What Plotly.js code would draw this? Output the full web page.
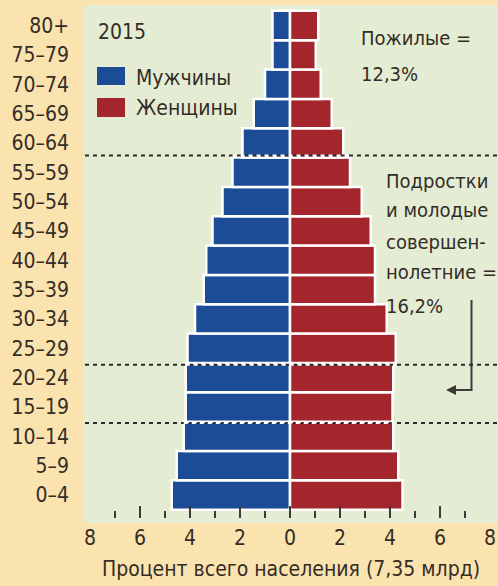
<!DOCTYPE html>
<html>
<head>
<meta charset="utf-8">
<script src="https://cdn.plot.ly/plotly-3.0.1.min.js"></script>
<style>html,body{margin:0;padding:0;background:#fbe3b0;}</style>
</head>
<body>
<div id="chart" style="width:498px;height:586px;"></div>
<script>
// Age groups, bottom to top
const ageGroups = ["0–4","5–9","10–14","15–19","20–24","25–29","30–34","35–39","40–44","45–49","50–54","55–59","60–64","65–69","70–74","75–79","80+"];
// Percent of total population
const maleValues   = [4.73, 4.53, 4.25, 4.17, 4.17, 4.10, 3.80, 3.45, 3.35, 3.10, 2.70, 2.30, 1.90, 1.45, 1.00, 0.70, 0.70];
const femaleValues = [4.50, 4.33, 4.13, 4.10, 4.13, 4.23, 3.87, 3.40, 3.40, 3.23, 2.87, 2.40, 2.13, 1.67, 1.23, 1.03, 1.13];
const xTickVals = [-8, -6, -4, -2, 0, 2, 4, 6, 8];
const xTickText = ["8", "6", "4", "2", "0", "2", "4", "6", "8"];
const seriesNames = ["Мужчины", "Женщины"];
const yearLabel = "2015";
const xTitle = "Процент всего населения (7,35 млрд)";
const elderlyText = ["Пожилые =", "12,3%"];
const youthText = ["Подростки", "и молодые", "совершен-", "нолетние =", "16,2%"];
// Group boundaries drawn as dashed lines (between age rows)
const boundaries = [[11, 12], [4, 5], [2, 3]];
const boundaryY = [11.57, 4.44, 2.45];

const FONT = "'Liberation Sans Narrow', 'Arial Narrow', 'DejaVu Sans Condensed', sans-serif";
const TXT = "#332d26";
const BLUE = "#1b4c95";
const RED = "#a4262d";
const GREEN = "#e5ecd4";

const idx = ageGroups.map((_, i) => i);

// pixel helpers for layout decorations (plot area: x 90..490, y 5..518)
const px = p => (p - 90) / 400;
const py = p => (518 - p) / 513;

const traces = [
  {type: "bar", orientation: "h", name: seriesNames[0], y: idx, x: maleValues.map(v => -v),
   marker: {color: BLUE, line: {color: "#ffffff", width: 2.5}}, hoverinfo: "skip"},
  {type: "bar", orientation: "h", name: seriesNames[1], y: idx, x: femaleValues,
   marker: {color: RED, line: {color: "#ffffff", width: 2.5}}, hoverinfo: "skip"}
];

const shapes = [
  {type: "rect", xref: "paper", yref: "paper", x0: px(83), x1: px(500), y0: py(523), y1: py(5),
   fillcolor: GREEN, line: {width: 0}, layer: "below"},
  {type: "rect", xref: "paper", yref: "paper", x0: px(97), x1: px(125), y0: py(85), y1: py(67),
   fillcolor: BLUE, line: {width: 0}},
  {type: "rect", xref: "paper", yref: "paper", x0: px(97), x1: px(125), y0: py(117), y1: py(98),
   fillcolor: RED, line: {width: 0}},
  // arrow stem
  {type: "path", xref: "paper", yref: "paper",
   path: `M ${px(471.5)} ${py(300)} L ${px(471.5)} ${py(390)} L ${px(452)} ${py(390)}`,
   line: {color: "#3a3a3a", width: 2}}
];

boundaries.forEach((b, k) => {
  const y = boundaryY[k];
  shapes.push({type: "line", xref: "paper", yref: "y", x0: px(85), x1: px(500), y0: y, y1: y,
    line: {color: "#2a2a2a", width: 2, dash: "4px,4px"}, layer: "above"});
  const left = -Math.max(maleValues[b[0]], maleValues[b[1]]);
  const right = Math.max(femaleValues[b[0]], femaleValues[b[1]]);
  shapes.push({type: "line", xref: "x", yref: "y", x0: left, x1: right, y0: y, y1: y,
    line: {color: "#ffffff", width: 2, dash: "4px,4px"}, layer: "above"});
});

const ann = (text, x, y, size, anchor) => ({
  text, xref: "paper", yref: "paper", x, y, xanchor: anchor || "left", yanchor: "middle",
  showarrow: false, font: {family: FONT, size: size || 21, color: TXT}
});

const annotations = [
  ann(yearLabel, px(96), py(32)),
  ann(seriesNames[0], px(134), py(78)),
  ann(seriesNames[1], px(134), py(108)),
  ann(elderlyText[0], px(359), py(38), 20),
  ann(elderlyText[1], px(359), py(74), 20),
  ann(youthText[0], px(384), py(181), 20),
  ann(youthText[1], px(384), py(210), 20),
  ann(youthText[2], px(384), py(242), 20),
  ann(youthText[3], px(384), py(272), 20),
  ann(youthText[4], px(384), py(306), 20),
  ann(xTitle, px(291), py(569), 21, "center"),
  {text: "", xref: "paper", yref: "paper", x: px(446), y: py(390), ax: 14, ay: 0,
   showarrow: true, arrowhead: 2, arrowsize: 1, arrowwidth: 2, arrowcolor: "#3a3a3a"}
];

const layout = {
  width: 498, height: 586,
  margin: {l: 90, r: 8, t: 5, b: 68},
  paper_bgcolor: "#fbe3b0",
  plot_bgcolor: "rgba(0,0,0,0)",
  barmode: "overlay",
  bargap: 0,
  showlegend: false,
  font: {family: FONT, size: 21, color: TXT},
  xaxis: {
    range: [-8, 8], tickmode: "array", tickvals: xTickVals, ticktext: xTickText,
    ticks: "inside", ticklen: 12, tickwidth: 2, tickcolor: "#3a3a3a",
    minor: {tickmode: "linear", tick0: 0, dtick: 1, ticks: "inside", ticklen: 7, tickwidth: 2, tickcolor: "#3a3a3a"},
    showgrid: false, zeroline: false, showline: false,
    ticklabelstandoff: 5,
    tickfont: {family: FONT, size: 21, color: TXT}, fixedrange: true
  },
  yaxis: {
    range: [-0.784, 16.7], tickmode: "array", tickvals: idx, ticktext: ageGroups,
    ticks: "", showgrid: false, zeroline: false, showline: false,
    ticklabelstandoff: 20,
    tickfont: {family: FONT, size: 21, color: TXT}, fixedrange: true
  },
  shapes, annotations
};

Plotly.newPlot("chart", traces, layout, {displayModeBar: false, staticPlot: true});
</script>
</body>
</html>
